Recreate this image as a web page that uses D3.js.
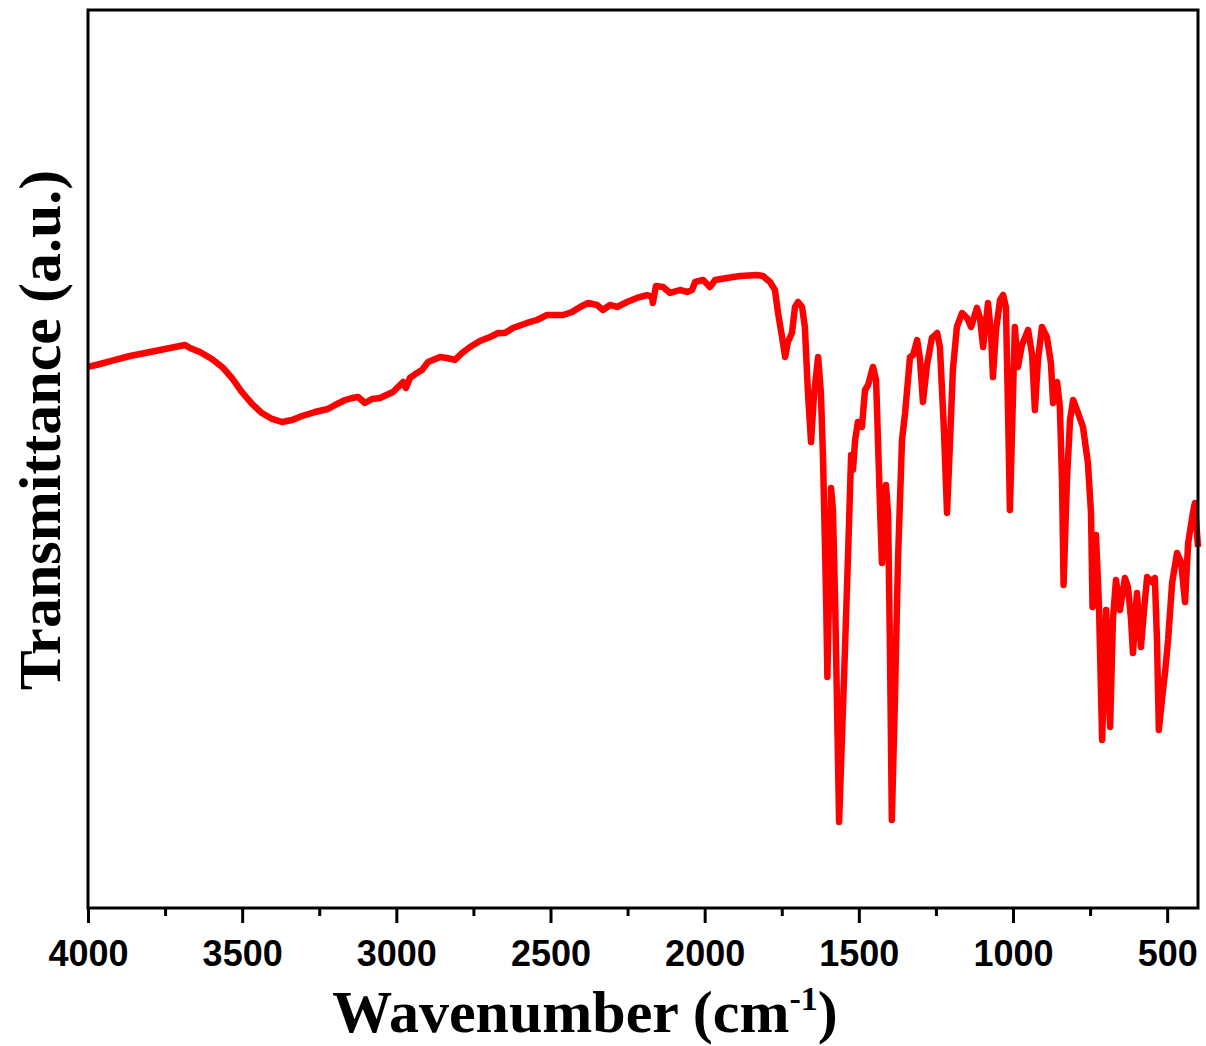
<!DOCTYPE html>
<html>
<head>
<meta charset="utf-8">
<script src="https://cdn.jsdelivr.net/npm/d3@7"></script>
<style>
  html, body { margin: 0; padding: 0; background: #ffffff; }
  svg { display: block; }
</style>
</head>
<body>
<script>
// FTIR spectrum: wavenumber (cm-1) and transmittance (arbitrary units)
const wavenumber = [
  4000, 3961, 3912, 3864, 3815, 3766, 3718, 3685, 3669, 3637, 3598, 3565, 3533, 3501, 3468, 3436,
  3403, 3371, 3338, 3306, 3264, 3222, 3199, 3166, 3144, 3124, 3102, 3079, 3053, 3011, 2978, 2969,
  2956, 2933, 2917, 2897, 2858, 2836, 2810, 2787, 2761, 2729, 2696, 2670, 2648, 2622, 2576, 2544,
  2511, 2459, 2430, 2404, 2378, 2349, 2330, 2307, 2284, 2252, 2220, 2187, 2171, 2168, 2158, 2135,
  2112, 2080, 2057, 2041, 2031, 2005, 1983, 1966, 1928, 1885, 1830, 1811, 1788, 1772, 1762, 1749,
  1739, 1730, 1717, 1707, 1697, 1684, 1675, 1665, 1655, 1645, 1632, 1623, 1616, 1606, 1602, 1597,
  1590, 1584, 1577, 1571, 1564, 1555, 1545, 1535, 1525, 1519, 1512, 1503, 1490, 1480, 1470, 1454,
  1444, 1438, 1431, 1425, 1418, 1412, 1405, 1399, 1393, 1383, 1373, 1360, 1350, 1334, 1324, 1311,
  1302, 1292, 1279, 1263, 1246, 1237, 1224, 1214, 1204, 1195, 1182, 1165, 1149, 1136, 1117, 1107,
  1097, 1081, 1071, 1065, 1055, 1042, 1032, 1023, 1016, 1010, 1003, 994, 984, 971, 951, 938,
  929, 919, 906, 890, 877, 870, 857, 848, 841, 836, 825, 815, 805, 789, 773, 757,
  747, 742, 737, 731, 721, 711, 705, 698, 692, 685, 676, 666, 653, 637, 627, 617,
  611, 598, 585, 575, 565, 549, 540, 533, 527, 517, 507, 497, 484, 468, 455, 442,
  432, 416, 410, 400
];
const transmittance = [
  60.25, 60.58, 61.03, 61.47, 61.80, 62.14, 62.47, 62.70, 62.36, 61.92, 61.14, 60.25, 59.02, 57.46, 56.13, 55.12,
  54.46, 54.12, 54.34, 54.79, 55.23, 55.57, 56.01, 56.57, 56.79, 56.90, 56.24, 56.68, 56.79, 57.46, 58.58, 57.91,
  59.02, 59.58, 59.91, 60.80, 61.36, 61.25, 61.03, 61.80, 62.47, 63.14, 63.59, 64.03, 64.03, 64.59, 65.15, 65.48,
  66.04, 66.04, 66.37, 66.93, 67.37, 67.15, 66.59, 67.15, 66.93, 67.48, 67.93, 68.26, 68.04, 67.37, 69.27, 69.16,
  68.49, 68.82, 68.60, 68.82, 69.71, 69.93, 69.16, 69.93, 70.16, 70.38, 70.49, 70.38, 69.71, 68.82, 66.26, 63.59,
  61.36, 63.03, 64.03, 66.93, 67.48, 66.93, 64.70, 57.35, 51.89, 57.35, 61.36, 57.35, 49.89, 34.30, 25.72, 34.30,
  46.77, 44.32, 34.30, 23.16, 9.58, 18.71, 28.73, 39.31, 50.45, 48.78, 52.12, 54.12, 53.56, 57.68, 58.24, 60.25,
  58.80, 52.12, 44.32, 38.42, 43.21, 47.10, 43.76, 28.73, 9.80, 23.16, 38.75, 52.12, 55.12, 61.36, 61.58, 63.25,
  61.25, 56.35, 60.47, 63.48, 64.03, 62.47, 53.23, 43.99, 52.12, 59.91, 64.70, 66.26, 65.70, 64.70, 66.82, 65.70,
  62.47, 67.37, 63.81, 59.13, 64.37, 67.71, 68.26, 66.93, 55.12, 44.32, 53.23, 64.70, 60.25, 62.70, 64.37, 61.58,
  55.46, 61.03, 64.70, 63.59, 60.69, 56.24, 58.58, 55.79, 47.66, 35.97, 47.66, 54.34, 56.57, 55.12, 53.56, 49.56,
  43.99, 33.52, 37.64, 41.54, 33.52, 18.71, 25.39, 33.19, 25.39, 20.16, 32.07, 36.53, 33.19, 36.75, 35.75, 32.07,
  28.40, 35.08, 29.06, 33.19, 36.86, 36.30, 36.75, 29.84, 19.82, 23.16, 26.17, 29.84, 36.19, 39.53, 38.53, 34.08,
  40.65, 44.10, 45.10, 40.20
];
const majorTicks = [4000, 3500, 3000, 2500, 2000, 1500, 1000, 500];
const minorTicks = [3750, 3250, 2750, 2250, 1750, 1250, 750];
const xTitle = "Wavenumber (cm";
const xTitleSup = "-1";
const yTitle = "Transmittance (a.u.)";

const spectrum = wavenumber.map((w, i) => ({ w, t: transmittance[i] }));

const W = 1206, H = 1046;
const plot = { left: 88, right: 1198, top: 10, bottom: 908 };

const svg = d3.select("body").append("svg")
  .attr("width", W).attr("height", H);

const x = d3.scaleLinear().domain([4000, 400]).range([plot.left, plot.right]);
const y = d3.scaleLinear().domain([0, 100]).range([plot.bottom, plot.top]);

// spectrum trace
const line = d3.line().x(d => x(d.w)).y(d => y(d.t)).curve(d3.curveLinear);
svg.append("path")
  .datum(spectrum)
  .attr("d", line)
  .attr("fill", "none")
  .attr("stroke", "#ff0000")
  .attr("stroke-width", 6.5)
  .attr("stroke-linejoin", "round")
  .attr("stroke-linecap", "butt");

// bottom axis with major labels
const xAxis = d3.axisBottom(x)
  .tickValues(majorTicks)
  .tickFormat(d3.format("d"))
  .tickSize(15)
  .tickSizeOuter(0);
const gx = svg.append("g")
  .attr("transform", `translate(0,${plot.bottom})`)
  .call(xAxis);
gx.select(".domain").remove();
gx.selectAll(".tick line").attr("stroke", "#000").attr("stroke-width", 3);
gx.selectAll(".tick text")
  .attr("y", 58)
  .attr("dy", null)
  .attr("fill", "#000")
  .style("font-family", "'Liberation Sans', Arial, sans-serif")
  .style("font-weight", "bold")
  .style("font-size", "36px");

// minor ticks
const gm = svg.append("g")
  .attr("transform", `translate(0,${plot.bottom})`)
  .call(d3.axisBottom(x).tickValues(minorTicks).tickFormat("").tickSize(8).tickSizeOuter(0));
gm.select(".domain").remove();
gm.selectAll(".tick line").attr("stroke", "#000").attr("stroke-width", 3);

// frame
svg.append("rect")
  .attr("x", plot.left).attr("y", plot.top)
  .attr("width", plot.right - plot.left)
  .attr("height", plot.bottom - plot.top)
  .attr("fill", "none")
  .attr("stroke", "#000")
  .attr("stroke-width", 3);

// axis titles
const titleFont = "'Liberation Serif', 'Times New Roman', serif";
const xt = svg.append("text")
  .attr("x", 585).attr("y", 1032)
  .attr("text-anchor", "middle")
  .style("font-family", titleFont)
  .style("font-weight", "bold")
  .style("font-size", "60px")
  .attr("fill", "#000");
xt.append("tspan").text(xTitle);
xt.append("tspan").attr("dy", -22).style("font-size", "34px").text(xTitleSup);
xt.append("tspan").attr("dy", 22).text(")");

svg.append("text")
  .attr("transform", "translate(60,430) rotate(-90)")
  .attr("text-anchor", "middle")
  .style("font-family", titleFont)
  .style("font-weight", "bold")
  .style("font-size", "60px")
  .attr("fill", "#000")
  .text(yTitle);
</script>
</body>
</html>
